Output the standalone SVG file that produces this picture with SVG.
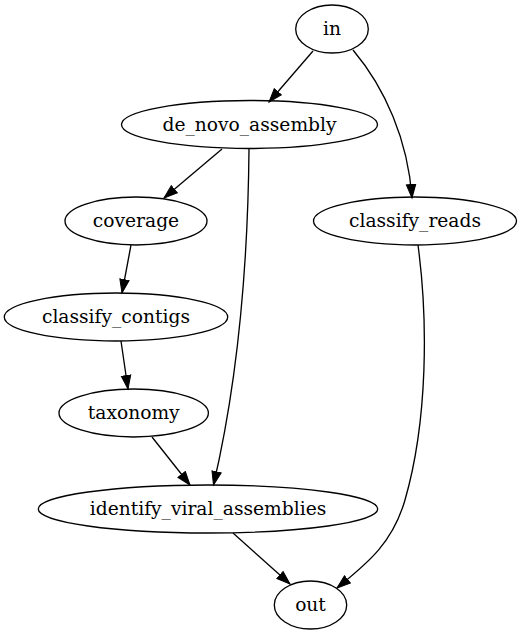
<svg xmlns="http://www.w3.org/2000/svg" width="521" height="635" viewBox="0 0 521 635">
<style>
.n ellipse{fill:none;stroke:#000;stroke-width:1.33}
.n text{font-family:"DejaVu Serif",serif;font-size:18.67px;text-anchor:middle;fill:#000}
#edges path{fill:none;stroke:#000;stroke-width:1.33;marker-end:url(#ah)}
</style>
<defs>
<marker id="ah" markerUnits="userSpaceOnUse" markerWidth="16" markerHeight="12" refX="14" refY="5" orient="auto" viewBox="0 0 16 10">
<path d="M0.5,0.3 L14,5 L0.5,9.7 Z" fill="#000" stroke="#000" stroke-width="1"/>
</marker>
</defs>
<rect width="521" height="635" fill="#fff"/>
<g id="edges">
<path d="M313,51 L269,102"/>
<path d="M353,50 C385,88 408,140 412,198"/>
<path d="M222,149 L164,198"/>
<path d="M249,149 C248,260 238,380 213.5,485"/>
<path d="M131,245 L122,293"/>
<path d="M121,341 L128,389"/>
<path d="M152,437 L190,485"/>
<path d="M233,533 L290,584"/>
<path d="M418,245 C428,320 428,420 405,500 C392,545 365,565 337,588"/>
</g>
<g id="in" class="n"><ellipse cx="332" cy="29" rx="36.3" ry="24"/><text x="332" y="35">in</text></g>
<g id="de_novo_assembly" class="n"><ellipse cx="249.5" cy="124.5" rx="128" ry="24"/><text x="249.5" y="130.5">de_novo_assembly</text></g>
<g id="coverage" class="n"><ellipse cx="136" cy="221" rx="71" ry="24"/><text x="136" y="227">coverage</text></g>
<g id="classify_reads" class="n"><ellipse cx="415" cy="221" rx="101.5" ry="24"/><text x="415" y="227">classify_reads</text></g>
<g id="classify_contigs" class="n"><ellipse cx="116" cy="317" rx="111.7" ry="24"/><text x="116" y="323">classify_contigs</text></g>
<g id="taxonomy" class="n"><ellipse cx="133.7" cy="413" rx="74.7" ry="24"/><text x="133.7" y="419">taxonomy</text></g>
<g id="identify_viral_assemblies" class="n"><ellipse cx="208" cy="509" rx="169.7" ry="24"/><text x="208" y="515">identify_viral_assemblies</text></g>
<g id="out" class="n"><ellipse cx="310.5" cy="605" rx="36.2" ry="24"/><text x="310.5" y="611">out</text></g>
</svg>
